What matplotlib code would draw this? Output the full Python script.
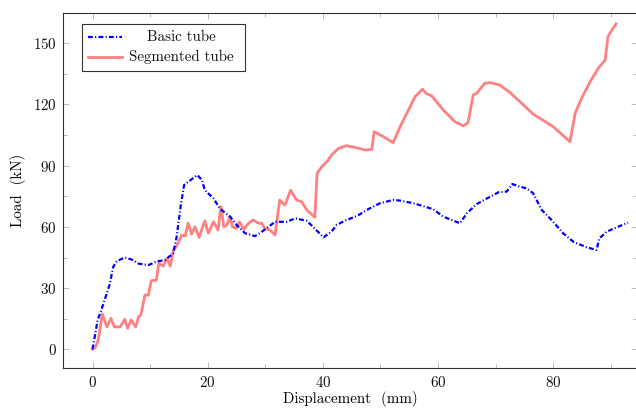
import matplotlib
matplotlib.use("Agg")
import matplotlib.pyplot as plt
from matplotlib.patches import Rectangle
from matplotlib.lines import Line2D
from matplotlib.ticker import MultipleLocator

plt.rcParams['font.family'] = ['cmr10', 'DejaVu Serif']
plt.rcParams['axes.formatter.use_mathtext'] = True
plt.rcParams['mathtext.fontset'] = 'cm'

# Basic tube
basic_x = [0, 0.9, 1.5, 2.2, 3.0, 3.6, 4.2, 4.8, 5.6, 6.8, 8.0, 9.7, 11.1, 12.6, 14.0, 14.6,
           15.3, 15.9, 16.8, 18.2, 19.0, 19.5, 21.0, 22.1, 23.9, 25.0, 26.5, 28.2, 29.1, 30.2,
           31.7, 33.7, 35.2, 37.2, 38.3, 40.1, 41.5, 42.4, 44.1, 45.9, 47.6, 49.9, 52.2, 53.4,
           55.7, 57.4, 59.2, 60.9, 63.8, 65.0, 66.7, 68.7, 70.5, 71.9, 72.9, 74.2, 75.4, 76.5,
           78.0, 79.7, 81.7, 83.5, 85.8, 87.5, 88.0, 89.3, 91.0, 93.0]
basic_y = [0, 14.4, 19, 25, 32, 40.5, 43, 44, 45, 44, 42, 41.3, 43, 43.8, 47, 55,
           70, 80.5, 82.5, 85.4, 83, 78, 74, 69, 65, 61, 56.9, 55.5, 57, 59.3,
           62.5, 62.5, 64.2, 63, 60, 54.9, 57.7, 61, 63.4, 65.3, 68.3, 71.6, 73.2, 72.9,
           71.6, 70.2, 68.6, 65, 61.8, 66.7, 71.2, 74.3, 77, 77.3, 81, 79.7, 78.9, 76.5,
           68.3, 63.4, 56.9, 52.7, 50, 48.7, 54.4, 57.7, 59.8, 62.1]

# Segmented tube
seg_x = [0, 0.5, 1.0, 1.7, 2.5, 3.2, 3.8, 4.8, 5.6, 6.1, 6.7, 7.5, 8.0, 8.4, 9.1, 9.7, 10.2,
         11.1, 11.5, 12.3, 12.9, 13.5, 14.0, 14.6, 15.5, 16.1, 16.6, 17.2, 17.8, 18.5, 19.5,
         20.1, 21.0, 21.8, 22.3, 22.8, 23.3, 23.9, 24.3, 25.0, 25.5, 26.3, 27.1, 27.9, 28.8,
         29.4, 29.9, 30.8, 31.7, 32.5, 33.4, 34.4, 35.4, 36.3, 37.2, 38.0, 38.6, 39.0, 39.8,
         40.7, 41.5, 42.7, 44.1, 45.6, 47.3, 48.5, 48.9, 50.5, 52.2, 53.4, 54.8, 56.0, 57.3,
         57.9, 58.9, 60.9, 62.9, 64.4, 65.2, 66.1, 66.7, 68.1, 69.0, 70.7, 72.5, 74.2, 76.5,
         80.0, 82.9, 83.8, 84.9, 86.4, 87.8, 89.0, 89.5, 90.0, 90.9]
seg_y = [0, 1, 4.6, 17.3, 11, 15.2, 11, 11, 14.7, 10.3, 14.4, 11, 16, 16.8, 26.6, 26.6, 33.6,
         34, 42.2, 40.8, 44.6, 40.8, 48.3, 50.6, 56, 55.5, 61.8, 56.5, 60.1, 54.9, 63,
         56.9, 62.5, 58.5, 69.9, 60.1, 60.9, 65, 60.1, 59.3, 62.5, 58.8, 61.8, 63.4, 61.8,
         61.8, 59.3, 58.5, 56, 73.2, 70.7, 78, 73.2, 72.4, 68.3, 66.3, 64.7, 86.3, 89.5,
         92, 95.2, 98.5, 99.8, 99, 97.7, 98, 106.7, 104.2, 101.3, 109.1, 117, 123.8, 127.5,
         125.5, 124.2, 117.3, 111.6, 109.5, 111.1, 124.7, 125.5, 130.4, 130.7, 129.6, 125.8, 121.4, 115.3,
         109.1, 101.8, 115.7, 123, 131.2, 137.7, 141.8, 153.2, 155.7, 159.5]

labels = ['Basic tube', 'Segmented tube']
x_ticks = [0, 20, 40, 60, 80]
y_ticks = [0, 30, 60, 90, 120, 150]

FS = 10.8
W, H = 636, 409
fig = plt.figure(figsize=(W / 100, H / 100), dpi=100)
L, R, T, B = 63.3, 636.8, 13.3, 368.3
ax = fig.add_axes([L / W, 1 - B / H, (R - L) / W, (B - T) / H])

blue = '#0000ff'
red = '#ff8080'
ls_blue = (0, (2.2, 1.0, 0.5, 1.0))
LWB, LWR = 1.6, 2.0
ax.plot(seg_x, seg_y, color=red, lw=LWR, solid_joinstyle='round', zorder=2)
ax.plot(basic_x, basic_y, color=blue, lw=LWB, linestyle=ls_blue, zorder=3)

ax.set_xlim(-5.07, 94.5)
ax.set_ylim(-9.3, 164.7)
ax.set_xticks(x_ticks)
ax.set_yticks(y_ticks)
ax.xaxis.set_minor_locator(MultipleLocator(10))
ax.yaxis.set_minor_locator(MultipleLocator(15))
ax.tick_params(which='both', direction='in', top=True, right=True, color='#b0b0b0', width=0.6,
               labelsize=FS, labelcolor='#111111')
ax.tick_params(which='major', length=4.5, pad=4.8)
ax.tick_params(which='minor', length=3.0)
for s in ax.spines.values():
    s.set_color('#333333')
    s.set_linewidth(0.8)

ax.set_xlabel('Displacement  (mm)', fontsize=FS, labelpad=1)
ax.set_ylabel('Load  (kN)', fontsize=FS, labelpad=5)

# legend (pgfplots style, centered text)
lx0, lx1, ly0, ly1 = 0.0321, 0.317, 0.8375, 0.970
ax.add_patch(Rectangle((lx0, ly0), lx1 - lx0, ly1 - ly0, transform=ax.transAxes,
                       facecolor='white', edgecolor='#333333', lw=0.8, zorder=5))
ys = [0.9324, 0.876]
styles = [dict(color=blue, lw=LWB, linestyle=ls_blue), dict(color=red, lw=LWR)]
for yy, st, lab in zip(ys, styles, labels):
    ax.add_line(Line2D([0.0436, 0.1019], [yy, yy], transform=ax.transAxes, zorder=6, **st))
    ax.text(0.2062, yy, lab, transform=ax.transAxes, ha='center', va='center',
            fontsize=FS, zorder=6, color='#111111')

fig.savefig('out.png', dpi=100)
